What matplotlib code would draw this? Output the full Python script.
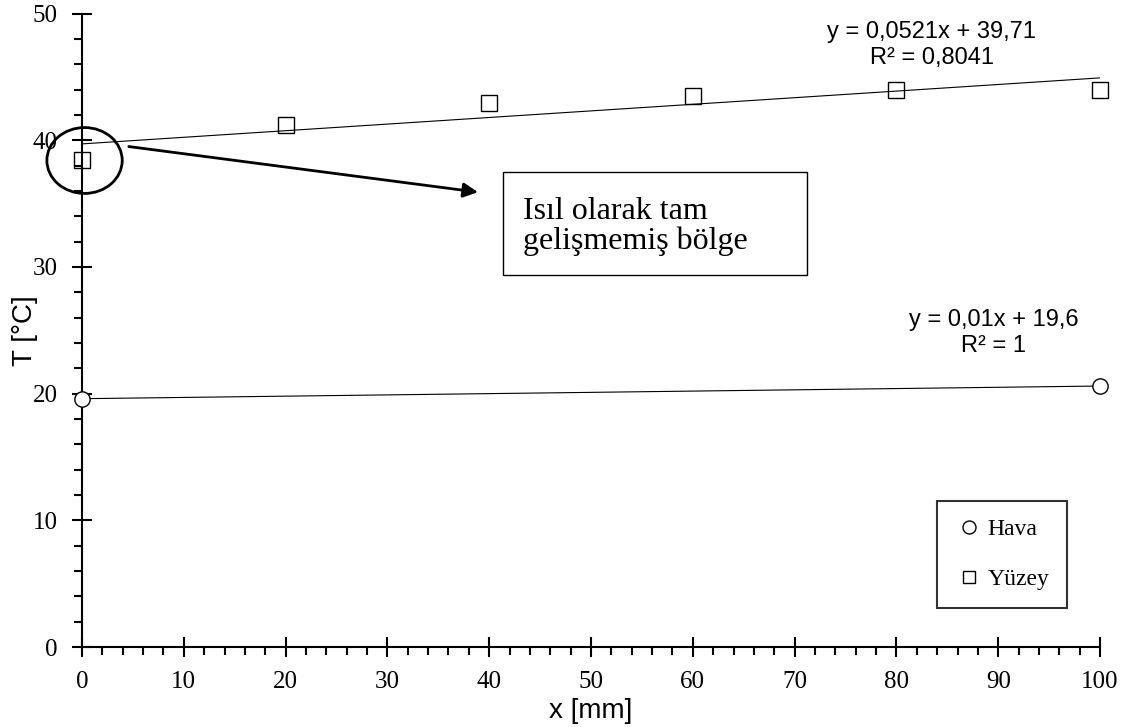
import numpy as np
import matplotlib.pyplot as plt
from matplotlib.patches import Ellipse, Rectangle
from matplotlib.ticker import MultipleLocator

# data
x_hava = [0, 100]
t_hava = [19.6, 20.6]
x_yuzey = [0, 20, 40, 60, 80, 100]
t_yuzey = [38.4, 41.2, 42.9, 43.5, 44.0, 43.95]

# trend lines (from the chart's equations)
a_y, b_y = 0.0521, 39.71
a_h, b_h = 0.01, 19.6
eq_yuzey = "y = 0,0521x + 39,71\nR² = 0,8041"
eq_hava = "y = 0,01x + 19,6\nR² = 1"

serif = "Liberation Serif"
sans = "Liberation Sans"

fig = plt.figure(figsize=(11.28, 7.27), dpi=100)
ax = fig.add_axes([0.0727, 0.110, 0.9025, 0.8714])

xl = np.array([0, 100])
ax.plot(xl, a_y * xl + b_y, color="black", lw=0.8)
ax.plot(xl, a_h * xl + b_h, color="black", lw=0.8)

ax.plot(x_hava, t_hava, "o", ms=11, mfc="white", mec="black", mew=1.0,
        label="Hava", clip_on=False, zorder=5)
ax.plot(x_yuzey, t_yuzey, "s", ms=11, mfc="none", mec="black", mew=1.0,
        label="Yüzey", clip_on=False, zorder=5)

ax.set_xlim(0, 100)
ax.set_ylim(0, 50)
ax.xaxis.set_major_locator(MultipleLocator(10))
ax.xaxis.set_minor_locator(MultipleLocator(2))
ax.yaxis.set_major_locator(MultipleLocator(10))
ax.yaxis.set_minor_locator(MultipleLocator(2))
ax.tick_params(which="major", direction="inout", length=15, width=1.5,
               labelsize=18, pad=10)
ax.tick_params(which="minor", direction="out", length=6, width=1.5)
for lab in ax.get_xticklabels() + ax.get_yticklabels():
    lab.set_family(serif)

for s in ["top", "right"]:
    ax.spines[s].set_visible(False)
for s in ["left", "bottom"]:
    ax.spines[s].set_linewidth(1.5)

ax.set_xlabel("x [mm]", fontsize=20, family=sans, labelpad=3)
ax.set_ylabel("T [°C]", fontsize=20, family=sans, labelpad=-4)

ax.text(83.45, 47.5, eq_yuzey, ha="center", va="center", fontsize=17,
        family=sans, linespacing=1.2)
ax.text(89.55, 24.8, eq_hava, ha="center", va="center", fontsize=17,
        family=sans, linespacing=1.2)

ell = Ellipse((0.25, 38.4), 7.4, 5.2, fill=False, ec="black", lw=2,
              clip_on=False, zorder=6)
ax.add_patch(ell)
ax.annotate("", xy=(38.9, 35.9), xytext=(4.6, 39.5),
            arrowprops=dict(arrowstyle="-|>", color="black", lw=2,
                            mutation_scale=22, shrinkA=0, shrinkB=0))

# annotation box
ax.add_patch(Rectangle((41.36, 29.36), 29.84, 8.13, fc="white", ec="black",
                       lw=1, zorder=4))
ax.text(43.3, 33.2, "Isıl olarak tam\ngelişmemiş bölge", ha="left",
        va="center", fontsize=23, family=serif, linespacing=1.0, zorder=5)

leg = ax.legend(loc="lower right", bbox_to_anchor=(0.9676, 0.0616),
                borderaxespad=0, prop={"family": serif, "size": 17},
                frameon=True, fancybox=False, edgecolor="black",
                handlelength=1.21, handletextpad=0.17, labelspacing=1.2,
                borderpad=0.75, markerscale=0.85)
leg.get_frame().set_linewidth(1.5)

fig.savefig("out.png", dpi=100)
